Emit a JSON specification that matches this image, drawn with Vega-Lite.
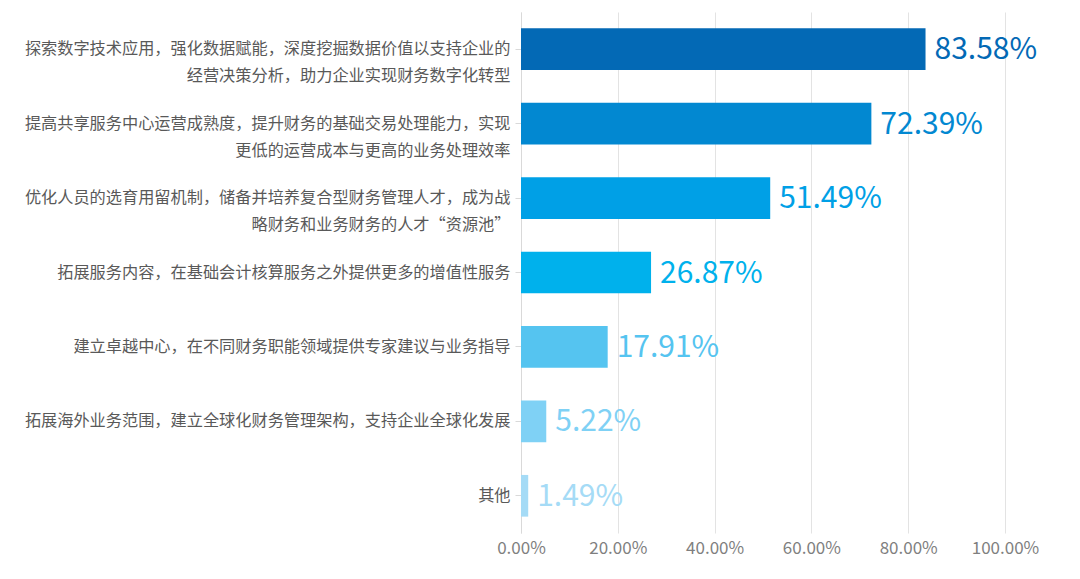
{
  "$schema": "https://vega.github.io/schema/vega-lite/v6.json",
  "autosize": "none",
  "padding": {"left": 521, "top": 12, "right": 75, "bottom": 46},
  "width": 484,
  "height": 521,
  "background": "white",
  "config": {
    "view": {"stroke": null},
    "font": "Noto Sans CJK SC"
  },
  "data": {
    "values": [
      {"item": "探索数字技术应用，强化数据赋能，深度挖掘数据价值以支持企业的|经营决策分析，助力企业实现财务数字化转型", "share": 0.8358},
      {"item": "提高共享服务中心运营成熟度，提升财务的基础交易处理能力，实现|更低的运营成本与更高的业务处理效率", "share": 0.7239},
      {"item": "优化人员的选育用留机制，储备并培养复合型财务管理人才，成为战|略财务和业务财务的人才“资源池”", "share": 0.5149},
      {"item": "拓展服务内容，在基础会计核算服务之外提供更多的增值性服务", "share": 0.2687},
      {"item": "建立卓越中心，在不同财务职能领域提供专家建议与业务指导", "share": 0.1791},
      {"item": "拓展海外业务范围，建立全球化财务管理架构，支持企业全球化发展", "share": 0.0522},
      {"item": "其他", "share": 0.0149}
    ]
  },
  "encoding": {
    "y": {
      "field": "item",
      "type": "nominal",
      "sort": null,
      "title": null,
      "scale": {"paddingInner": 0.44, "paddingOuter": 0.22},
      "axis": {
        "labelExpr": "split(datum.label, '|')",
        "labelFontSize": 16.2,
        "labelColor": "#595959",
        "labelLineHeight": 27,
        "labelLimit": 520,
        "labelPadding": 5,
        "tickColor": "#d9d9d9",
        "tickSize": 6,
        "domainColor": "#d9d9d9"
      }
    },
    "x": {
      "field": "share",
      "type": "quantitative",
      "title": null,
      "scale": {"domain": [0, 1]},
      "axis": {
        "format": ".2%",
        "values": [0, 0.2, 0.4, 0.6, 0.8, 1],
        "labelFontSize": 17,
        "labelColor": "#7f7f7f",
        "labelPadding": 7,
        "labelFlush": false,
        "ticks": false,
        "domain": false,
        "gridColor": "#e3e3e3"
      }
    },
    "color": {
      "field": "item",
      "type": "nominal",
      "sort": null,
      "legend": null,
      "scale": {"range": ["#0369B5", "#0288D1", "#00A0E6", "#00B1EC", "#55C4F0", "#7FD1F5", "#A5DBF6"]}
    }
  },
  "layer": [
    {"mark": {"type": "bar"}},
    {
      "mark": {"type": "text", "align": "left", "baseline": "middle", "dx": 9, "dy": 1, "fontSize": 30},
      "encoding": {
        "text": {"field": "share", "type": "quantitative", "format": ".2%"}
      }
    }
  ]
}
